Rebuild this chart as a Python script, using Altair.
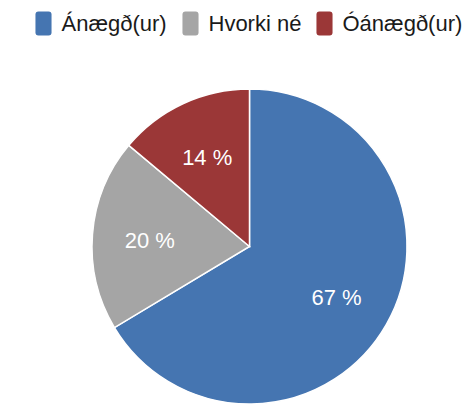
import altair as alt
import pandas as pd

categories = ["Ánægð(ur)", "Hvorki né", "Óánægð(ur)"]
values = [66.4, 19.7, 13.9]
labels = ["67 %", "20 %", "14 %"]
colors = ["#4575b1", "#a5a5a5", "#9b3737"]
order = [0, 1, 2]

df = pd.DataFrame({"cat": categories, "val": values, "label": labels, "ord": order})

CX, CY, R = 241.5, 238.5, 157.5

sym = ("M -0.42,-1 L 0.42,-1 Q 0.67,-1 0.67,-0.75 L 0.67,0.75 Q 0.67,1 0.42,1 "
       "L -0.42,1 Q -0.67,1 -0.67,0.75 L -0.67,-0.75 Q -0.67,-1 -0.42,-1 Z")

base = alt.Chart(df).encode(
    theta=alt.Theta("val:Q", stack=True),
    order=alt.Order("ord:Q"),
    x=alt.value(CX),
    y=alt.value(CY),
)

arcs = base.mark_arc(outerRadius=R, stroke="white", strokeWidth=1.5).encode(
    color=alt.Color(
        "cat:N",
        scale=alt.Scale(domain=categories, range=colors),
        sort=categories,
        legend=alt.Legend(
            orient="none",
            legendX=23.5,
            legendY=3.5,
            direction="horizontal",
            title=None,
            symbolType=sym,
            symbolSize=576,
            symbolStrokeWidth=0,
            symbolOpacity=1,
            labelFont="Liberation Sans",
            labelFontSize=22,
            labelColor="#1a1a1a",
            labelOffset=6,
            columnPadding=11,
            padding=0,
        ),
    )
)

text = base.mark_text(
    radius=100, font="Liberation Sans", fontSize=22, color="white",
    align="center", baseline="middle", dy=2.5
).encode(text="label:N")

chart = (arcs + text).properties(
    width=455, height=400, autosize="none", padding=0
).configure_view(stroke=None)

chart.save("out.html", embed_options={"renderer": "svg", "actions": False})
